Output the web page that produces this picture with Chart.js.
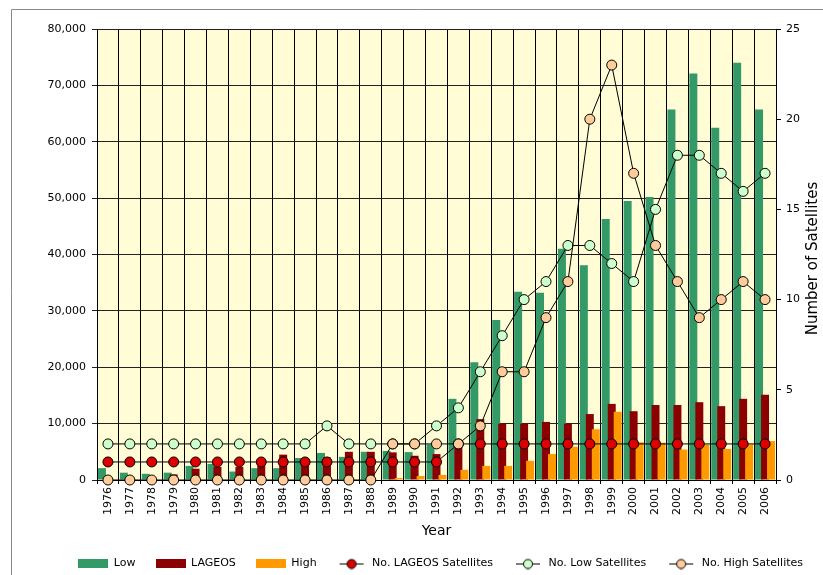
<!DOCTYPE html>
<html>
<head>
<meta charset="utf-8">
<script src="https://cdn.jsdelivr.net/npm/chart.js@4.4.1/dist/chart.umd.min.js"></script>
<style>
html,body{margin:0;padding:0;background:#fff;overflow:hidden}
#wrap{position:relative;width:823px;height:575px}
</style>
</head>
<body>
<div id="wrap"><canvas id="c" width="823" height="575"></canvas></div>
<script>
const years = ["1976","1977","1978","1979","1980","1981","1982","1983","1984","1985","1986","1987","1988","1989","1990","1991","1992","1993","1994","1995","1996","1997","1998","1999","2000","2001","2002","2003","2004","2005","2006"];

const lowBars = [2100,1300,1100,1300,2500,2850,1500,2100,2100,3900,4800,4100,5000,5150,4950,6300,14400,20900,28400,33400,33200,41000,38100,46300,49500,50200,65700,72100,62500,74000,65700];
const lageosBars = [0,0,0,1000,2000,2300,2300,3200,4500,3900,4000,5000,5000,4900,4300,4600,6800,10800,10000,10000,10300,10000,11700,13500,12200,13300,13300,13800,13100,14400,15100];
const highBars = [0,0,0,0,0,0,0,0,0,0,0,0,0,350,700,900,1800,2500,2500,3400,4600,5900,9000,12100,6700,6600,5400,6300,5500,6300,6900];

const lageosSats = [1,1,1,1,1,1,1,1,1,1,1,1,1,1,1,1,2,2,2,2,2,2,2,2,2,2,2,2,2,2,2];
const lowSats = [2,2,2,2,2,2,2,2,2,2,3,2,2,2,2,3,4,6,8,10,11,13,13,12,11,15,18,18,17,16,17];
const highSats = [0,0,0,0,0,0,0,0,0,0,0,0,0,2,2,2,2,3,6,6,9,11,20,23,17,13,11,9,10,11,10];

const leftTicks = [0,10000,20000,30000,40000,50000,60000,70000,80000];
const rightTicks = [0,5,10,15,20,25];

const FONT = '"DejaVu Sans", sans-serif';
Chart.defaults.font.family = FONT;
Chart.defaults.font.size = 11;
Chart.defaults.color = '#000';

function swatchBar(color) {
  const c = document.createElement('canvas');
  c.width = 30; c.height = 9;
  const g = c.getContext('2d');
  g.fillStyle = color; g.fillRect(0, 0, 30, 9);
  return c;
}
function swatchLine(color) {
  const c = document.createElement('canvas');
  c.width = 30; c.height = 12;
  const g = c.getContext('2d');
  g.strokeStyle = '#000'; g.lineWidth = 1;
  g.beginPath(); g.moveTo(3, 6.5); g.lineTo(27, 6.5); g.stroke();
  g.beginPath(); g.arc(15, 6.5, 4.5, 0, Math.PI * 2);
  g.fillStyle = color; g.fill(); g.stroke();
  return c;
}

const bgPlugin = {
  id: 'bg',
  beforeDraw(chart) {
    const {ctx, chartArea: a} = chart;
    ctx.save();
    ctx.fillStyle = '#fff';
    ctx.fillRect(0, 0, chart.width, chart.height);
    ctx.strokeStyle = '#8a8a8a';
    ctx.lineWidth = 1;
    ctx.beginPath();
    ctx.moveTo(11.5, chart.height + 5);
    ctx.lineTo(11.5, 9.5);
    ctx.lineTo(chart.width + 5, 9.5);
    ctx.stroke();
    ctx.fillStyle = '#FFFCD6';
    ctx.fillRect(a.left, a.top, a.right - a.left, a.bottom - a.top);
    ctx.restore();
  }
};

const drawOrderPlugin = {
  id: 'drawOrder',
  beforeDatasetsDraw(chart) {
    chart.data.datasets.forEach((ds, i) => {
      if (chart.isDatasetVisible(i)) chart.getDatasetMeta(i).controller.draw();
    });
    return false;
  }
};

const rightTitlePlugin = {
  id: 'rightTitle',
  afterDraw(chart) {
    const ctx = chart.ctx, a = chart.chartArea;
    ctx.save();
    ctx.translate(813, (a.top + a.bottom) / 2 + 4);
    ctx.rotate(-Math.PI / 2);
    ctx.font = '15px ' + FONT;
    ctx.fillStyle = '#000';
    ctx.textAlign = 'center';
    ctx.textBaseline = 'middle';
    ctx.fillText('Number of Satellites', 0, 0);
    ctx.restore();
  }
};

const lineStyle = (color) => ({
  type: 'line',
  yAxisID: 'y2',
  borderColor: '#000',
  borderWidth: 1,
  pointRadius: 5,
  pointHoverRadius: 5,
  pointBackgroundColor: color,
  pointBorderColor: '#000',
  pointBorderWidth: 1,
  tension: 0,
  fill: false,
  clip: false
});
const barStyle = (color) => ({
  type: 'bar',
  yAxisID: 'y',
  backgroundColor: color,
  borderWidth: 0,
  inflateAmount: 0,
  categoryPercentage: 0.82,
  barPercentage: 1.33
});

new Chart(document.getElementById('c'), {
  type: 'bar',
  data: {
    labels: years,
    datasets: [
      Object.assign({label: 'Low', data: lowBars}, barStyle('#339966')),
      Object.assign({label: 'LAGEOS', data: lageosBars}, barStyle('#8B0000')),
      Object.assign({label: 'High', data: highBars}, barStyle('#FF9900')),
      Object.assign({label: 'No. LAGEOS Satellites', data: lageosSats}, lineStyle('#DD0000')),
      Object.assign({label: 'No. Low Satellites', data: lowSats}, lineStyle('#CCFFCC')),
      Object.assign({label: 'No. High Satellites', data: highSats}, lineStyle('#FFCC99'))
    ]
  },
  options: {
    responsive: false,
    devicePixelRatio: 1,
    animation: false,
    layout: {padding: {top: 29, left: 0, right: 0, bottom: -4}},
    plugins: {
      tooltip: {enabled: false},
      legend: {
        position: 'bottom',
        align: 'end',
        labels: {
          usePointStyle: true,
          pointStyleWidth: 30,
          padding: 20,
          font: {size: 11, family: FONT},
          color: '#000',
          generateLabels(chart) {
            return chart.data.datasets.map((ds, i) => ({
              text: ds.label,
              pointStyle: ds.type === 'line' ? swatchLine(ds.pointBackgroundColor) : swatchBar(ds.backgroundColor),
              fillStyle: ds.type === 'line' ? ds.pointBackgroundColor : ds.backgroundColor,
              strokeStyle: 'rgba(0,0,0,0)',
              lineWidth: 0,
              fontColor: '#000',
              hidden: !chart.isDatasetVisible(i),
              datasetIndex: i
            }));
          }
        }
      }
    },
    scales: {
      x: {
        offset: true,
        grid: {display: true, offset: true, color: '#000', lineWidth: 1, tickLength: 4, drawOnChartArea: true},
        border: {display: true, color: '#000', width: 1},
        ticks: {autoSkip: false, minRotation: 90, maxRotation: 90, padding: 3, font: {size: 11}, color: '#000'},
        title: {display: true, text: 'Year', font: {size: 14, family: FONT}, color: '#000', padding: {top: 0, bottom: -2}},
        afterFit(s) { s.height = 58; }
      },
      y: {
        position: 'left',
        min: 0, max: 80000,
        afterBuildTicks(s) { s.ticks = leftTicks.map(v => ({value: v})); },
        ticks: {padding: 6, font: {size: 11}, color: '#000', callback: v => v.toLocaleString('en-US')},
        grid: {color: '#222', lineWidth: 1, tickLength: 5},
        border: {display: true, color: '#000', width: 1},
        afterFit(s) { s.width = 97; }
      },
      y2: {
        position: 'right',
        min: 0, max: 25,
        afterBuildTicks(s) { s.ticks = rightTicks.map(v => ({value: v})); },
        ticks: {padding: 5, font: {size: 11}, color: '#000'},
        grid: {drawOnChartArea: false, color: '#000', tickLength: 5},
        border: {display: true, color: '#000', width: 1},
        afterFit(s) { s.width = 47; }
      }
    }
  },
  plugins: [bgPlugin, drawOrderPlugin, rightTitlePlugin]
});
</script>
</body>
</html>
